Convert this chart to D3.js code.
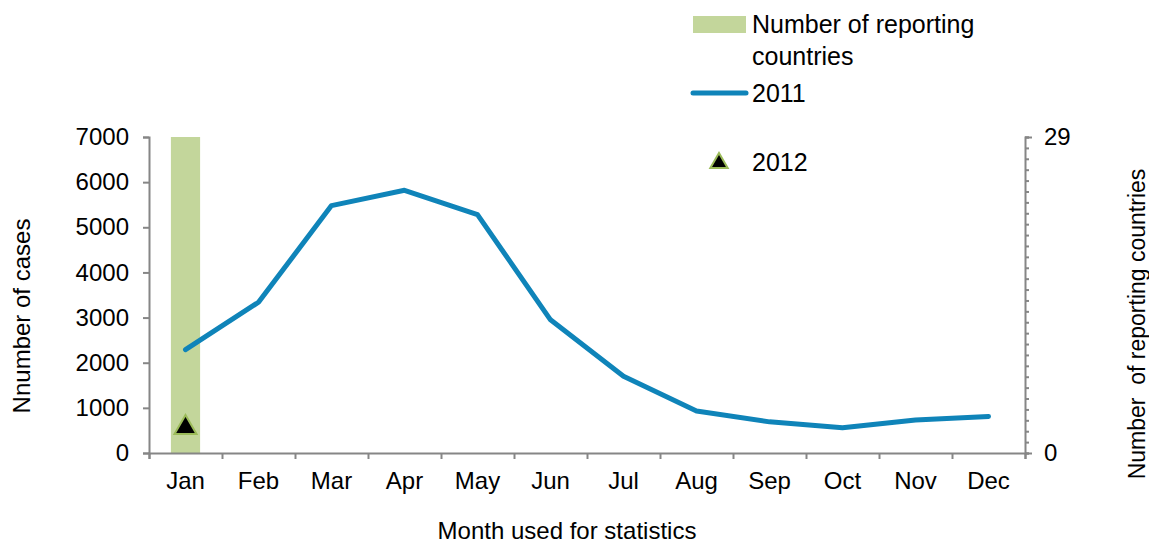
<!DOCTYPE html>
<html>
<head>
<meta charset="utf-8">
<script src="https://cdn.jsdelivr.net/npm/d3@7"></script>
<style>
  body { margin: 0; background: #fff; }
  text { font-family: "Liberation Sans", Arial, sans-serif; fill: #000; }
</style>
</head>
<body>
<div id="chart"></div>
<script>
const months = ["Jan","Feb","Mar","Apr","May","Jun","Jul","Aug","Sep","Oct","Nov","Dec"];
const cases2011 = [2290, 3340, 5480, 5820, 5280, 2950, 1700, 930, 690, 560, 730, 810];
const cases2012 = [{month: "Jan", value: 560}];
const reportingCountries = [{month: "Jan", value: 29}];
const leftTicks = [0, 1000, 2000, 3000, 4000, 5000, 6000, 7000];
const rightTicks = [0, 29];

const W = 1149, H = 544;
const margin = {top: 137, right: 124, bottom: 91, left: 149};
const width = W - margin.left - margin.right,
      height = H - margin.top - margin.bottom;

const svg = d3.select("#chart").append("svg")
  .attr("width", W).attr("height", H);
const g = svg.append("g")
  .attr("transform", `translate(${margin.left},${margin.top})`);

const x = d3.scaleBand().domain(months).range([0, width]);
const y = d3.scaleLinear().domain([0, 7000]).range([height, 0]);
const y2 = d3.scaleLinear().domain([0, 29]).range([height, 0]);

const axisColor = "#868686";
const fs = "24px";

// bars: reporting countries
g.selectAll("rect.bar")
  .data(reportingCountries)
  .enter().append("rect")
  .attr("class", "bar")
  .attr("x", d => x(d.month) + x.bandwidth() * 0.3)
  .attr("width", x.bandwidth() * 0.4)
  .attr("y", d => y2(d.value))
  .attr("height", d => height - y2(d.value))
  .attr("fill", "#c3d69b");

// left axis
const yAxis = g.append("g")
  .call(d3.axisLeft(y).tickValues(leftTicks).tickFormat(d3.format("d")).tickSize(6).tickPadding(14));
yAxis.selectAll("text").style("font-size", fs);

// right axis, minor ticks each country
const yAxis2 = g.append("g")
  .attr("transform", `translate(${width},0)`)
  .call(d3.axisRight(y2).tickValues(d3.range(0, 30)).tickSize(4).tickFormat(""));
const yAxis2Major = g.append("g")
  .attr("transform", `translate(${width},0)`)
  .call(d3.axisRight(y2).tickValues(rightTicks).tickSize(7).tickPadding(12));
yAxis2Major.selectAll("text").style("font-size", fs);
yAxis2Major.select(".domain").remove();

// bottom axis, ticks on band edges
const xEdge = d3.scalePoint().domain(d3.range(13)).range([0, width]);
const xAxis = g.append("g")
  .attr("transform", `translate(0,${height})`)
  .call(d3.axisBottom(xEdge).tickSize(6).tickFormat(""));
const xLabels = g.append("g")
  .attr("transform", `translate(0,${height})`)
  .call(d3.axisBottom(x).tickSize(0).tickPadding(19));
xLabels.select(".domain").remove();
xLabels.selectAll("text").style("font-size", fs);

[yAxis, yAxis2, yAxis2Major, xAxis].forEach(a => {
  a.selectAll("path,line").attr("stroke", axisColor).attr("stroke-width", 2);
});

// 2011 line
const line = d3.line()
  .x((d, i) => x(months[i]) + x.bandwidth() / 2)
  .y(d => y(d));
g.append("path")
  .datum(cases2011)
  .attr("d", line)
  .attr("fill", "none")
  .attr("stroke", "#0f84b9")
  .attr("stroke-width", 5)
  .attr("stroke-linecap", "round")
  .attr("stroke-linejoin", "round");

// 2012 marker
const tri = d3.symbol().type(d3.symbolTriangle).size(210);
g.selectAll("path.m2012")
  .data(cases2012)
  .enter().append("path")
  .attr("class", "m2012")
  .attr("d", tri)
  .attr("transform", d => `translate(${x(d.month) + x.bandwidth() / 2},${y(d.value)})`)
  .attr("fill", "#000")
  .attr("stroke", "#9bbb59")
  .attr("stroke-width", 2);

// axis titles
svg.append("text")
  .attr("transform", "translate(30,316) rotate(-90)")
  .attr("text-anchor", "middle")
  .style("font-size", fs)
  .text("Nnumber of cases");
svg.append("text")
  .attr("transform", "translate(1145,324) rotate(-90)")
  .attr("text-anchor", "middle")
  .style("font-size", "23px")
  .attr("xml:space", "preserve")
  .text("Number  of reporting countries");
svg.append("text")
  .attr("x", 567).attr("y", 539)
  .attr("text-anchor", "middle")
  .style("font-size", fs)
  .text("Month used for statistics");

// legend
const lg = svg.append("g");
const lfs = "25px";
lg.append("rect").attr("x", 693).attr("y", 16).attr("width", 53).attr("height", 17).attr("fill", "#c3d69b");
lg.append("text").attr("x", 752).attr("y", 33).style("font-size", lfs).text("Number of reporting");
lg.append("text").attr("x", 752).attr("y", 65).style("font-size", lfs).text("countries");
lg.append("line").attr("x1", 693).attr("x2", 746).attr("y1", 93).attr("y2", 93)
  .attr("stroke", "#0f84b9").attr("stroke-width", 5).attr("stroke-linecap", "round");
lg.append("text").attr("x", 752).attr("y", 102).style("font-size", lfs).text("2011");
lg.append("path").attr("d", d3.symbol().type(d3.symbolTriangle).size(130))
  .attr("transform", "translate(719,163)")
  .attr("fill", "#000").attr("stroke", "#9bbb59").attr("stroke-width", 2);
lg.append("text").attr("x", 752).attr("y", 171).style("font-size", lfs).text("2012");
</script>
</body>
</html>
